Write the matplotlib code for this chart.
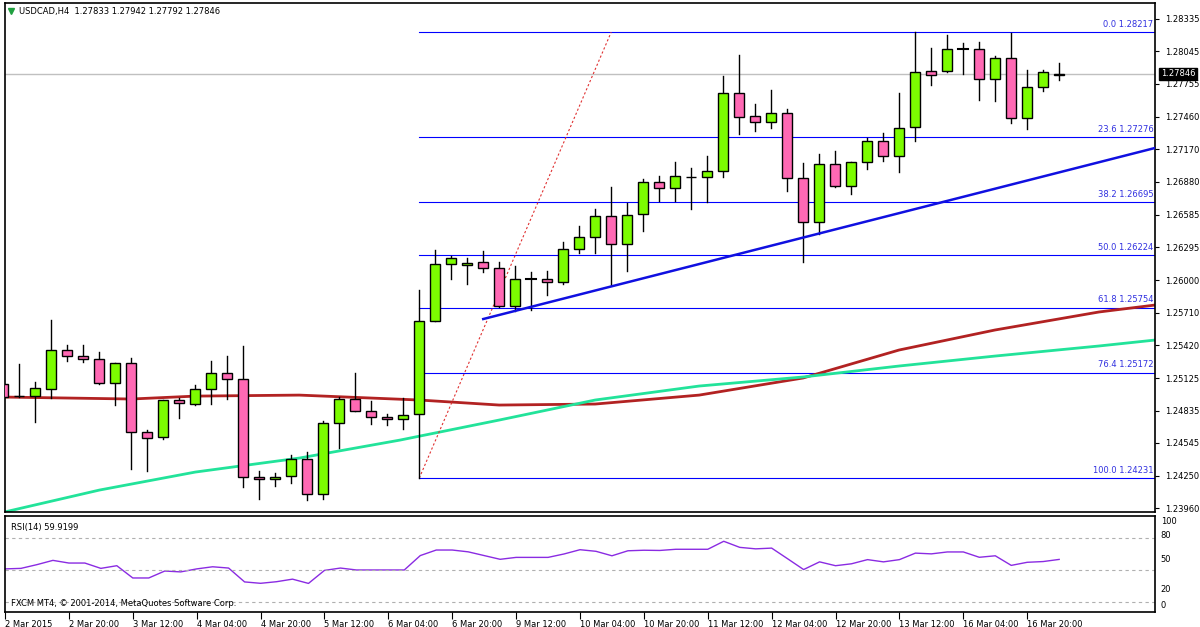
import matplotlib
matplotlib.use("Agg")
import matplotlib.pyplot as plt
import numpy as np

# USDCAD H4 candles (open, high, low, close)
opens = [1.25072, 1.24968, 1.24964, 1.25027, 1.25376, 1.25322, 1.25295, 1.25081, 1.25260, 1.24643,
         1.24598, 1.24929, 1.24893, 1.25027, 1.25170, 1.25117, 1.24241, 1.24223, 1.24250, 1.24401,
         1.24089, 1.24723, 1.24938, 1.24831, 1.24777, 1.24759, 1.24804, 1.25635, 1.26145, 1.26136,
         1.26163, 1.26109, 1.25769, 1.26008, 1.26011, 1.25984, 1.26279, 1.26386, 1.26574, 1.26324,
         1.26592, 1.26878, 1.26824, 1.26925, 1.26923, 1.26976, 1.27674, 1.27468, 1.27414, 1.27495,
         1.26914, 1.26520, 1.27039, 1.26842, 1.27057, 1.27244, 1.27110, 1.27370, 1.27870, 1.27870,
         1.28065, 1.28067, 1.27799, 1.27987, 1.27450, 1.27727, 1.27833]
highs = [1.25117, 1.25251, 1.25090, 1.25644, 1.25420, 1.25420, 1.25358, 1.25260, 1.25305, 1.24661,
         1.24929, 1.24947, 1.25063, 1.25278, 1.25322, 1.25411, 1.24294, 1.24276, 1.24437, 1.24464,
         1.24741, 1.24956, 1.25170, 1.24920, 1.24804, 1.24947, 1.25912, 1.26270, 1.26216, 1.26198,
         1.26261, 1.26163, 1.26127, 1.26073, 1.26082, 1.26341, 1.26485, 1.26636, 1.26833, 1.26690,
         1.26905, 1.26932, 1.27057, 1.27003, 1.27110, 1.27826, 1.28013, 1.27575, 1.27700, 1.27530,
         1.27048, 1.27128, 1.27155, 1.27057, 1.27271, 1.27316, 1.27674, 1.28217, 1.28076, 1.28192,
         1.28121, 1.28129, 1.28004, 1.28210, 1.27879, 1.27879, 1.27942]
lows = [1.24911, 1.24956, 1.24732, 1.24947, 1.25278, 1.25269, 1.25072, 1.24884, 1.24312, 1.24294,
        1.24580, 1.24768, 1.24884, 1.24893, 1.24938, 1.24151, 1.24044, 1.24160, 1.24187, 1.24035,
        1.24044, 1.24500, 1.24831, 1.24714, 1.24705, 1.24670, 1.24231, 1.25635, 1.26011, 1.25966,
        1.26073, 1.25760, 1.25725, 1.25734, 1.25868, 1.25966, 1.26243, 1.26243, 1.25957, 1.26082,
        1.26440, 1.26708, 1.26708, 1.26636, 1.26699, 1.26923, 1.27307, 1.27334, 1.27361, 1.26798,
        1.26163, 1.26413, 1.26833, 1.26771, 1.26994, 1.27066, 1.26967, 1.27244, 1.27745, 1.27861,
        1.27843, 1.27611, 1.27602, 1.27405, 1.27352, 1.27691, 1.27792]
closes = [1.24956, 1.24962, 1.25036, 1.25376, 1.25322, 1.25295, 1.25081, 1.25260, 1.24643, 1.24589,
          1.24929, 1.24902, 1.25027, 1.25170, 1.25117, 1.24241, 1.24223, 1.24241, 1.24401, 1.24089,
          1.24723, 1.24938, 1.24831, 1.24777, 1.24759, 1.24795, 1.25635, 1.26145, 1.26198, 1.26154,
          1.26109, 1.25769, 1.26011, 1.26011, 1.25984, 1.26279, 1.26386, 1.26574, 1.26324, 1.26583,
          1.26878, 1.26824, 1.26932, 1.26920, 1.26976, 1.27674, 1.27459, 1.27414, 1.27495, 1.26914,
          1.26520, 1.27039, 1.26842, 1.27057, 1.27244, 1.27110, 1.27361, 1.27861, 1.27834, 1.28067,
          1.28067, 1.27799, 1.27987, 1.27450, 1.27727, 1.27861, 1.27846]

# moving averages, sampled along the chart (bar index, price)
ma_red_idx = [-0.2, 8, 12, 18.5, 26, 31, 37, 43.5, 50, 56, 62, 68.5, 72]
ma_red = [1.24956, 1.24938, 1.24964, 1.24973, 1.24929, 1.24884, 1.24893, 1.24973, 1.25126,
          1.25376, 1.25555, 1.25716, 1.25778]
ma_green_idx = [-0.2, 6, 12, 18.5, 24.8, 31, 37, 43.5, 50, 56, 62, 68.5, 72]
ma_green = [1.23919, 1.24124, 1.24285, 1.24410, 1.24571, 1.24750, 1.24929, 1.25054, 1.25135,
            1.25233, 1.25322, 1.25412, 1.25465]

rsi = [51, 51.5, 55, 59, 56.5, 56.5, 51.5, 54, 42.5, 42.5, 49, 48.2, 51, 53, 51.8, 38.8, 37.5,
       39, 41.4, 37.4, 49.6, 51.8, 50, 50, 50, 50, 63.5, 68.7, 68.7, 67, 63.5, 60, 61.8, 61.8,
       61.8, 65, 69, 67.5, 63.3, 68, 68.5, 68.3, 69.4, 69.4, 69.4, 76.9, 71.2, 69.8, 70.5, 60.5,
       50.4, 57.6, 54, 55.8, 59.7, 57.6, 59.7, 65.8, 65.1, 66.9, 66.9, 61.9, 63.3, 54.3, 57.2,
       57.9, 59.9]

fib_pct = ["0.0", "23.6", "38.2", "50.0", "61.8", "76.4", "100.0"]
fib_levels = [1.28217, 1.27276, 1.26695, 1.26224, 1.25754, 1.25172, 1.24231]
trend_idx = [30, 72]
trend_price = [1.25653, 1.27182]
fib_anchor_idx = [26, 38]
fib_anchor_price = [1.24231, 1.28217]

price_ticks = [1.28335, 1.28045, 1.27755, 1.27460, 1.27170, 1.26880, 1.26585, 1.26295, 1.26000,
               1.25710, 1.25420, 1.25125, 1.24835, 1.24545, 1.24250, 1.23960]
time_idx = list(range(0, 65, 4))
time_labels = ["2 Mar 2015", "2 Mar 20:00", "3 Mar 12:00", "4 Mar 04:00", "4 Mar 20:00",
               "5 Mar 12:00", "6 Mar 04:00", "6 Mar 20:00", "9 Mar 12:00", "10 Mar 04:00",
               "10 Mar 20:00", "11 Mar 12:00", "12 Mar 04:00", "12 Mar 20:00", "13 Mar 12:00",
               "16 Mar 04:00", "16 Mar 20:00"]
last_price = 1.27846

FS = 6
fig = plt.figure(figsize=(12, 6.27), dpi=100)
W, H = 1200, 627
ax = fig.add_axes([5 / W, 1 - 512 / H, 1150 / W, 509 / H])
ax2 = fig.add_axes([5 / W, 1 - 612 / H, 1150 / W, 96 / H])
xlim = (0.1, 72.0)

# candles
for i in range(len(opens)):
    o, h, l, c = opens[i], highs[i], lows[i], closes[i]
    ax.plot([i, i], [l, h], color="black", lw=1, zorder=3)
    col = "#7CFC00" if c >= o else "#FF69B4"
    if abs(c - o) < 0.00003:
        ax.plot([i - 0.33, i + 0.33], [o, o], color="black", lw=1.5, zorder=4)
    else:
        ax.add_patch(plt.Rectangle((i - 0.31, min(o, c)), 0.62, abs(c - o), facecolor=col,
                                   edgecolor="black", lw=1, zorder=4))

ax.plot(ma_red_idx, ma_red, color="#B22222", lw=2, zorder=2)
ax.plot(ma_green_idx, ma_green, color="#22E39A", lw=2, zorder=2)
ax.axhline(last_price, color="#C0C0C0", lw=1, zorder=1)
ax.plot(trend_idx, trend_price, color="#1010E0", lw=1.8, zorder=5)
ax.plot(fib_anchor_idx, fib_anchor_price, color="#E03030", lw=0.8, ls=(0, (2, 2)), zorder=2)
for p, lv in zip(fib_pct, fib_levels):
    ax.plot([fib_anchor_idx[0], xlim[1]], [lv, lv], color="#0000FF", lw=0.8, zorder=1)
    ax.text(xlim[1] - 0.1, lv + 0.0003, f"{p} {lv:.5f}", color="#3030E0", fontsize=FS,
            ha="right", va="bottom")

ax.set_xlim(*xlim)
ax.set_ylim(1.23928, 1.28478)
ax.yaxis.tick_right()
ax.set_yticks(price_ticks)
ax.set_yticklabels([f"{t:.5f}" for t in price_ticks], fontsize=FS)
ax.tick_params(axis="y", length=3, pad=4)
ax.set_xticks([])
ax.text(xlim[1] + 0.35, last_price, f"{last_price:.5f}", color="white",
        fontsize=FS, va="center", ha="left",
        bbox=dict(boxstyle="square,pad=0.2", fc="black", ec="black"), clip_on=False, zorder=10)
ax.text(0.012, 0.992, "USDCAD,H4  1.27833 1.27942 1.27792 1.27846", transform=ax.transAxes,
        fontsize=FS, va="top")
ax.plot([0.005], [0.985], marker="v", color="#20A040", ms=4, transform=ax.transAxes,
        clip_on=False)

# RSI panel
ax2.plot(range(len(rsi)), rsi, color="#8A2BE2", lw=1)
for lv in [80, 50, 20]:
    ax2.axhline(lv, color="#B0B0B0", lw=0.8, ls=(0, (3, 3)))
ax2.set_xlim(*xlim)
ax2.set_ylim(10.6, 100.6)
ax2.set_yticks([])
for lab, yp in [("100", 521), ("80", 535), ("50", 560), ("20", 590), ("0", 605)]:
    ax2.text(1.005, (612 - yp) / 96, lab, transform=ax2.transAxes, fontsize=FS, va="center")
ax2.text(0.005, 0.93, "RSI(14) 59.9199", transform=ax2.transAxes, fontsize=FS, va="top")
ax2.text(0.005, 0.04, "FXCM MT4, \u00a9 2001-2014, MetaQuotes Software Corp.",
         transform=ax2.transAxes, fontsize=FS, va="bottom")
ax2.set_xticks(time_idx)
ax2.set_xticklabels(time_labels, fontsize=FS, ha="left")
ax2.tick_params(axis="x", length=5, pad=1)

for a in (ax, ax2):
    for s in a.spines.values():
        s.set_linewidth(1.2)

fig.savefig("out.png", dpi=100)
